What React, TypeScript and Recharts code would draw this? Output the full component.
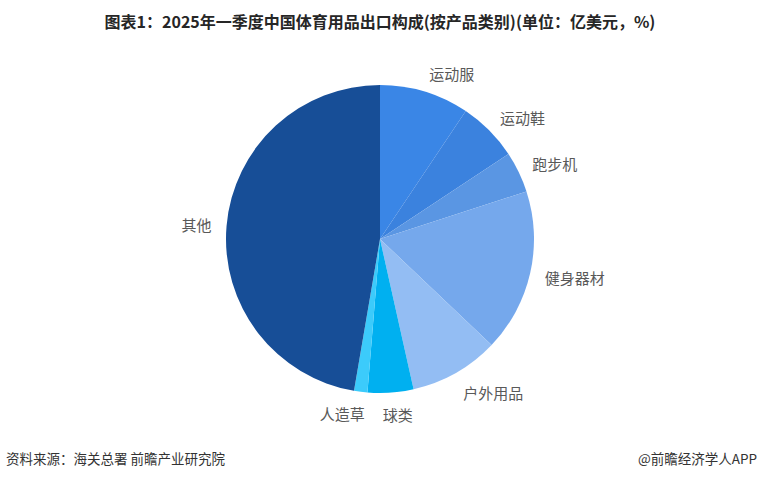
import React from 'react';
import { PieChart, Pie, Cell } from 'recharts';

// 2025年一季度中国体育用品出口构成（按产品类别，%）
const categories = ['运动服', '运动鞋', '跑步机', '健身器材', '户外用品', '球类', '人造草', '其他'];
const shares = [9.4, 6.3, 4.3, 17.1, 9.4, 4.8, 1.4, 47.3];
const colors = ['#3A86E6', '#3B82DE', '#5A96E3', '#75A8EC', '#93BDF3', '#00B0F0', '#3CCBFB', '#174E97'];

const data = categories.map((name, i) => ({ name, value: shares[i] }));

const RADIAN = Math.PI / 180;

const renderLabel = (props: any) => {
  const { cx, cy, midAngle, outerRadius, name } = props;
  const r = outerRadius + 15;
  const cos = Math.cos(-midAngle * RADIAN);
  const sin = Math.sin(-midAngle * RADIAN);
  const x = cx + r * cos;
  const y = cy + r * sin;
  let anchor: 'start' | 'end' | 'middle' = cos >= 0 ? 'start' : 'end';
  if (Math.abs(cos) < 0.1) anchor = 'middle';
  return (
    <text
      x={x + (sin > 0.9 ? 6 : 0)}
      y={y + (sin > 0 ? sin * 7 : sin * 4)}
      fill="#595959"
      fontSize={15}
      fontFamily="'Noto Sans CJK SC', sans-serif"
      textAnchor={anchor}
      dominantBaseline="central"
    >
      {name}
    </text>
  );
};

const font = "'Noto Sans CJK SC', sans-serif";

export default function App() {
  return (
    <div style={{ position: 'absolute', left: 0, top: 0, width: 760, height: 478, background: '#fff', overflow: 'hidden' }}>
      <div
        style={{
          position: 'absolute',
          left: 0,
          top: 9,
          width: 760,
          textAlign: 'center',
          fontFamily: font,
          fontWeight: 'bold',
          fontSize: 16,
          lineHeight: '24px',
          color: '#262626',
          whiteSpace: 'nowrap',
        }}
      >
        图表1：2025年一季度中国体育用品出口构成(按产品类别)(单位：亿美元，%)
      </div>
      <PieChart
        width={760}
        height={478}
        margin={{ top: 0, right: 0, bottom: 0, left: 0 }}
        style={{ position: 'absolute', left: 0, top: 0 }}
      >
        <Pie
          data={data}
          dataKey="value"
          nameKey="name"
          cx={380}
          cy={239}
          outerRadius={154}
          startAngle={90}
          endAngle={-270}
          stroke="none"
          label={renderLabel}
          labelLine={false}
          isAnimationActive={false}
        >
          {data.map((entry, index) => (
            <Cell key={`cell-${index}`} fill={colors[index]} />
          ))}
        </Pie>
      </PieChart>
      <div
        style={{
          position: 'absolute',
          left: 6,
          top: 448,
          fontFamily: font,
          fontSize: 13.5,
          lineHeight: '20px',
          color: '#333',
          whiteSpace: 'nowrap',
        }}
      >
        资料来源：海关总署 前瞻产业研究院
      </div>
      <div
        style={{
          position: 'absolute',
          right: 3,
          top: 448,
          fontFamily: font,
          fontSize: 13.5,
          lineHeight: '20px',
          color: '#333',
          whiteSpace: 'nowrap',
        }}
      >
        @前瞻经济学人APP
      </div>
    </div>
  );
}
